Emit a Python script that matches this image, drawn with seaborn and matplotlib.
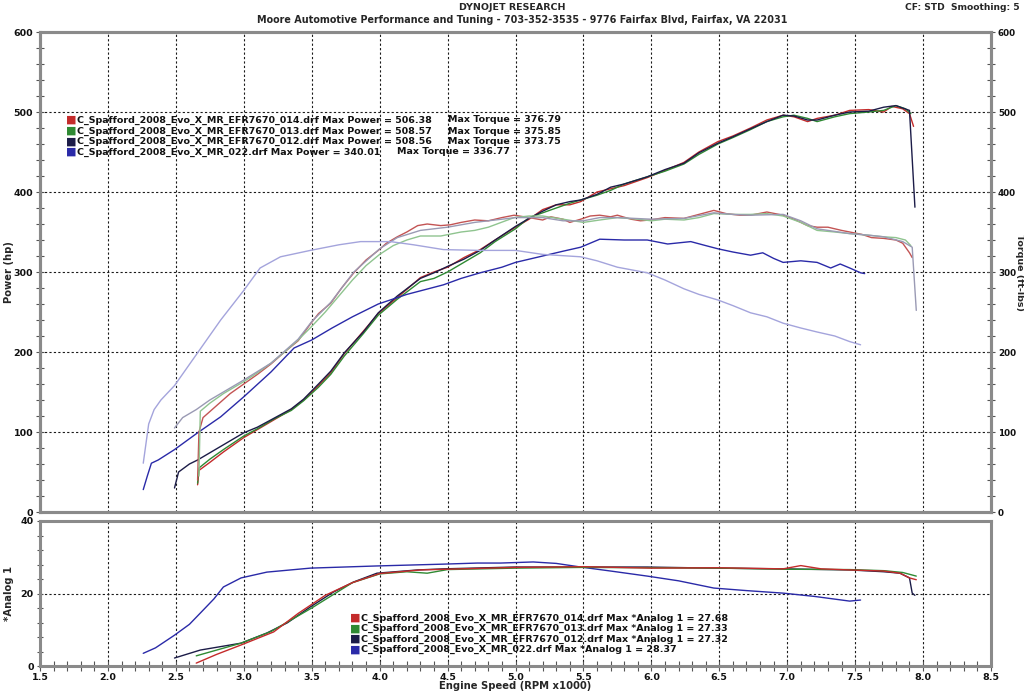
import matplotlib
matplotlib.use("Agg")
import matplotlib.pyplot as plt
import seaborn as sns
import pandas as pd
import numpy as np
from matplotlib.ticker import MultipleLocator

# ---------------- DATA ----------------
run_names = ["C_Spafford_2008_Evo_X_MR_EFR7670_014.drf",
             "C_Spafford_2008_Evo_X_MR_EFR7670_013.drf",
             "C_Spafford_2008_Evo_X_MR_EFR7670_012.drf",
             "C_Spafford_2008_Evo_X_MR_022.drf"]
max_power = [506.38, 508.57, 508.56, 340.01]
max_torque = [376.79, 375.85, 373.75, 336.77]
max_analog = [27.68, 27.33, 27.32, 28.37]

# Run 014 (red)
r014_pow_rpm = [2.66, 2.67, 2.75, 2.85, 3.0, 3.1, 3.22, 3.35, 3.44, 3.55, 3.64, 3.74, 3.88, 3.99, 4.13, 4.3, 4.4, 4.5,
                4.62, 4.74, 4.85, 5.0, 5.1, 5.2, 5.3, 5.4, 5.48, 5.6, 5.7, 5.8, 5.97, 6.1, 6.24, 6.35, 6.49, 6.6,
                6.73, 6.85, 6.97, 7.05, 7.15, 7.22, 7.35, 7.46, 7.6, 7.71, 7.77, 7.85, 7.9, 7.93]
r014_pow = [34, 52, 62, 75, 93, 103, 115, 128, 140, 158, 174, 198, 226, 248, 268, 293, 300, 306,
            318, 328, 340, 356, 366, 378, 384, 384, 388, 400, 404, 408, 418, 427, 437, 450, 463, 470,
            480, 490, 496, 494, 488, 492, 496, 502, 503, 500, 507, 504, 498, 482]
r014_trq_rpm = [2.66, 2.67, 2.7, 2.8, 2.9, 3.0, 3.1, 3.2, 3.3, 3.4, 3.49, 3.55, 3.64, 3.72, 3.81, 3.9, 3.99, 4.05,
                4.13, 4.2, 4.28, 4.35, 4.45, 4.52, 4.6, 4.7, 4.8, 4.9, 4.99, 5.1, 5.2, 5.26, 5.35, 5.4, 5.48,
                5.55, 5.62, 5.7, 5.75, 5.85, 5.92, 5.99, 6.1, 6.24, 6.35, 6.46, 6.55, 6.65, 6.73, 6.85, 6.97,
                7.05, 7.15, 7.22, 7.3, 7.4, 7.46, 7.55, 7.62, 7.71, 7.8, 7.85, 7.9, 7.92]
r014_trq = [40, 100, 118, 133, 148, 160, 172, 185, 200, 214, 235, 248, 261, 280, 299, 315, 327, 336,
            344, 350, 358, 360, 358, 359, 362, 365, 364, 368, 371, 368, 365, 369, 366, 362, 366,
            370, 371, 369, 371, 366, 364, 365, 368, 367, 372, 377, 373, 371, 371, 375, 371,
            366, 358, 356, 356, 352, 350, 347, 343, 342, 340, 336, 324, 318]

# Run 013 (green)
r013_pow_rpm = [2.66, 2.67, 2.75, 2.85, 3.0, 3.1, 3.22, 3.35, 3.44, 3.55, 3.64, 3.74, 3.88, 3.99, 4.13, 4.3, 4.4, 4.5,
                4.62, 4.74, 4.85, 5.0, 5.1, 5.2, 5.3, 5.4, 5.48, 5.6, 5.7, 5.8, 5.97, 6.1, 6.24, 6.35, 6.49, 6.6,
                6.73, 6.85, 6.97, 7.05, 7.15, 7.22, 7.35, 7.46, 7.6, 7.71, 7.8, 7.87, 7.91]
r013_pow = [36, 55, 66, 78, 95, 104, 116, 127, 139, 156, 172, 195, 223, 246, 266, 288, 292, 300,
            312, 324, 338, 354, 368, 374, 380, 386, 390, 396, 402, 410, 419, 426, 435, 447, 460, 468,
            478, 488, 494, 496, 492, 488, 494, 498, 500, 502, 508, 504, 498]
r013_trq_rpm = [2.67, 2.68, 2.75, 2.85, 3.0, 3.1, 3.2, 3.3, 3.4, 3.5, 3.6, 3.7, 3.8, 3.9, 4.0, 4.1, 4.2, 4.3,
                4.45, 4.6, 4.7, 4.8, 4.99, 5.1, 5.2, 5.35, 5.5, 5.62, 5.75, 5.9, 6.0, 6.1, 6.24, 6.35, 6.46,
                6.6, 6.73, 6.85, 6.97, 7.1, 7.22, 7.35, 7.46, 7.6, 7.71, 7.8, 7.87, 7.91]
r013_trq = [45, 126, 136, 148, 163, 174, 186, 200, 215, 232, 250, 270, 290, 308, 322, 333, 340, 345,
            345, 350, 352, 356, 368, 370, 370, 366, 362, 365, 368, 366, 364, 366, 365, 368, 373,
            372, 372, 373, 370, 362, 352, 350, 348, 346, 344, 343, 340, 333]

# Run 012 (navy)
r012_pow_rpm = [2.49, 2.52, 2.6, 2.66, 2.85, 3.0, 3.1, 3.22, 3.35, 3.44, 3.55, 3.64, 3.74, 3.88, 3.99, 4.13, 4.3,
                4.4, 4.5, 4.62, 4.74, 4.85, 5.0, 5.1, 5.2, 5.3, 5.4, 5.48, 5.6, 5.7, 5.8, 5.97, 6.1, 6.24, 6.35,
                6.49, 6.6, 6.73, 6.85, 6.97, 7.05, 7.15, 7.22, 7.35, 7.46, 7.6, 7.71, 7.8, 7.9, 7.94]
r012_pow = [30, 50, 60, 65, 84, 99, 106, 117, 129, 141, 160, 176, 199, 225, 249, 270, 292,
            299, 307, 316, 327, 340, 357, 367, 376, 384, 388, 390, 397, 406, 410, 419, 428, 436, 449,
            461, 469, 479, 488, 496, 495, 490, 490, 496, 500, 501, 506, 508, 502, 381]
r012_trq_rpm = [2.49, 2.55, 2.65, 2.75, 2.9, 3.0, 3.2, 3.4, 3.5, 3.64, 3.81, 4.0, 4.13, 4.3, 4.5, 4.7, 5.0,
                5.2, 5.35, 5.5, 5.62, 5.75, 6.0, 6.24, 6.46, 6.6, 6.73, 6.97, 7.1, 7.22, 7.46, 7.6, 7.71,
                7.85, 7.92, 7.95]
r012_trq = [105, 118, 128, 140, 155, 165, 186, 216, 238, 262, 300, 329, 343, 352, 356, 362, 368,
            368, 364, 364, 368, 368, 366, 367, 374, 372, 371, 372, 364, 354, 348, 346, 344,
            338, 331, 252]

# Run 022 (blue)
r022_pow_rpm = [2.26, 2.29, 2.32, 2.37, 2.49, 2.66, 2.83, 3.0, 3.2, 3.37, 3.5, 3.65, 3.8, 3.99, 4.2, 4.47, 4.6,
                4.74, 4.9, 5.0, 5.2, 5.35, 5.48, 5.62, 5.8, 5.97, 6.12, 6.29, 6.4, 6.49, 6.6, 6.73, 6.82,
                6.9, 6.97, 7.1, 7.22, 7.32, 7.39, 7.46, 7.54, 7.57]
r022_pow = [28, 45, 61, 65, 78, 99, 119, 144, 175, 205, 215, 230, 244, 260, 272, 284, 292,
            299, 306, 312, 320, 326, 331, 341, 340, 340, 335, 338, 333, 329, 325, 321, 324,
            317, 312, 314, 312, 305, 310, 305, 299, 298]
r022_trq_rpm = [2.26, 2.3, 2.34, 2.39, 2.49, 2.66, 2.83, 3.0, 3.12, 3.27, 3.49, 3.7, 3.86, 4.08, 4.25, 4.47,
                4.74, 5.0, 5.2, 5.48, 5.6, 5.75, 5.97, 6.1, 6.24, 6.35, 6.49, 6.6, 6.73, 6.85, 6.97, 7.1,
                7.22, 7.35, 7.46, 7.54]
r022_trq = [61, 110, 128, 140, 158, 199, 240, 277, 305, 319, 327, 334, 338, 338, 334, 328,
            327, 327, 322, 319, 314, 306, 299, 290, 279, 272, 265, 258, 249, 244, 236, 230,
            225, 220, 213, 209]

# Analog 1 (lower panel)
a022_rpm = [2.26, 2.35, 2.49, 2.6, 2.68, 2.78, 2.85, 2.98, 3.17, 3.49, 3.98, 4.47, 4.72, 4.89, 5.13, 5.3, 5.48,
            5.7, 5.97, 6.2, 6.46, 6.7, 6.97, 7.2, 7.46, 7.54]
a022 = [3.5, 5.0, 8.5, 11.5, 14.6, 18.5, 21.8, 24.3, 25.9, 27.0, 27.6, 28.1, 28.4, 28.4, 28.7, 28.3, 27.3,
        26.2, 24.8, 23.5, 21.5, 20.8, 20.1, 19.2, 17.9, 18.2]
a012_rpm = [2.49, 2.68, 2.98, 3.17, 3.32, 3.49, 3.66, 3.81, 3.98, 4.28, 4.47, 4.99, 5.48, 5.97, 6.46, 6.97,
            7.46, 7.71, 7.83, 7.9, 7.92, 7.94]
a012 = [2.2, 4.4, 6.3, 9.1, 11.9, 16.3, 20.4, 23.2, 25.6, 26.5, 26.8, 27.3, 27.3, 27.3, 27.0, 26.8,
        26.5, 26.0, 25.6, 24.3, 20.1, 19.5]
a014_rpm = [2.65, 2.8, 2.98, 3.22, 3.4, 3.6, 3.8, 4.0, 4.3, 4.6, 5.0, 5.5, 6.0, 6.5, 6.97, 7.1, 7.25, 7.46,
            7.71, 7.83, 7.9, 7.95]
a014 = [0.8, 3.2, 5.8, 9.4, 14.5, 19.5, 23.0, 25.5, 26.5, 26.8, 27.2, 27.4, 27.0, 27.1, 26.8, 27.7, 26.8,
        26.5, 26.2, 25.6, 24.3, 23.8]
a013_rpm = [2.65, 2.98, 3.2, 3.5, 3.8, 4.0, 4.2, 4.35, 4.5, 5.0, 5.5, 6.0, 6.5, 6.97, 7.46, 7.71, 7.85, 7.95]
a013 = [2.8, 6.3, 9.5, 16.0, 23.0, 25.4, 26.0, 25.6, 26.6, 27.0, 27.2, 27.1, 27.0, 26.7, 26.6, 26.3, 25.8,
        24.8]

# ---------------- STYLE ----------------
sns.set_theme(style="white")
plt.rcParams['font.family'] = ['DejaVu Sans']
plt.rcParams['font.weight'] = 'bold'

W, H = 1024, 692
fig = plt.figure(figsize=(W / 100, H / 100), dpi=100)
ax = fig.add_axes([40 / W, 1 - 512 / H, 951 / W, 480 / H])
axb = fig.add_axes([40 / W, 1 - 666 / H, 951 / W, 145 / H], sharex=ax)
ax2 = ax.twinx()

power_cols = ['#c42b2b', '#2f8a33', '#1c1c48', '#2a2aa8']
torque_cols = ['#c35454', '#8fc48f', '#9a9ab4', '#a4a4dc']


def line(axis, xs, ys, col, lw=1.0):
    df = pd.DataFrame({'rpm': xs, 'v': ys})
    sns.lineplot(data=df, x='rpm', y='v', ax=axis, color=col, lw=lw,
                 estimator=None, sort=False, legend=False)


torque_series = [(r014_trq_rpm, r014_trq), (r013_trq_rpm, r013_trq), (r012_trq_rpm, r012_trq),
                 (r022_trq_rpm, r022_trq)]
power_series = [(r014_pow_rpm, r014_pow), (r013_pow_rpm, r013_pow), (r012_pow_rpm, r012_pow),
                (r022_pow_rpm, r022_pow)]
for (xs, ys), c in zip(torque_series, torque_cols):
    line(ax2, xs, ys, c)
for (xs, ys), c in zip(power_series, power_cols):
    line(ax, xs, ys, c)

analog_series = [(a022_rpm, a022), (a012_rpm, a012), (a013_rpm, a013), (a014_rpm, a014)]
analog_cols = [power_cols[3], power_cols[2], power_cols[1], power_cols[0]]
for (xs, ys), c in zip(analog_series, analog_cols):
    line(axb, xs, ys, c)

# ---------------- AXES ----------------
grid_kw = dict(color='#1a1a1a', linestyle=(0, (2, 2)), linewidth=0.8)
spine_col = '#8a8a8a'
for a in (ax, ax2, axb):
    for s in a.spines.values():
        s.set_color(spine_col)
        s.set_linewidth(2.2)

ax.set_xlim(1.5, 8.5)
ax.set_ylim(0, 600)
ax2.set_ylim(0, 600)
axb.set_ylim(0, 40)

ax.yaxis.set_major_locator(MultipleLocator(100))
ax.yaxis.set_minor_locator(MultipleLocator(20))
ax2.yaxis.set_major_locator(MultipleLocator(100))
ax2.yaxis.set_minor_locator(MultipleLocator(20))
axb.yaxis.set_major_locator(MultipleLocator(20))
axb.yaxis.set_minor_locator(MultipleLocator(4))
axb.xaxis.set_major_locator(MultipleLocator(0.5))
axb.xaxis.set_minor_locator(MultipleLocator(0.1))

ax.grid(True, which='major', axis='both', **grid_kw)
axb.grid(True, which='major', axis='both', **grid_kw)
ax2.grid(False)

tick_font = dict(labelsize=6.8, labelcolor='#111111')
ax.tick_params(axis='x', which='both', bottom=False, labelbottom=False)
ax.tick_params(axis='y', which='both', left=True, direction='inout', color='#555555', **tick_font)
ax.tick_params(axis='y', which='major', length=6, width=0.8, pad=2)
ax.tick_params(axis='y', which='minor', length=6, width=0.8)
ax2.tick_params(axis='y', which='both', right=True, direction='inout', color='#555555',
                labelsize=6.3, labelcolor='#111111')
ax2.tick_params(axis='y', which='major', length=6, width=0.8, pad=2)
ax2.tick_params(axis='y', which='minor', length=6, width=0.8)
axb.tick_params(axis='x', which='both', bottom=True, direction='inout', color='#555555', length=7, width=0.8,
                pad=1.5, **tick_font)
axb.tick_params(axis='y', which='both', left=True, direction='inout', color='#555555', length=5, width=0.8,
                pad=2, **tick_font)
for lab in ax.get_yticklabels() + ax2.get_yticklabels() + axb.get_yticklabels() + axb.get_xticklabels():
    lab.set_fontweight('bold')

ax.set_xlabel('')
ax.set_ylabel('Power (hp)', fontsize=7.2, fontweight='bold', va='center')
ax.yaxis.set_label_coords(-31 / 951, 0.5)
ax2.set_ylabel('Torque (ft-lbs)', fontsize=6.8, fontweight='bold', rotation=-90, va='center')
ax2.yaxis.set_label_coords(1 + 28.5 / 951, 0.5)
axb.set_ylabel('*Analog 1', fontsize=7.2, fontweight='bold', va='center')
axb.yaxis.set_label_coords(-31 / 951, 0.5)
axb.set_xlabel('Engine Speed (RPM x1000)', fontsize=7.2, fontweight='bold', va='center')
axb.xaxis.set_label_coords(0.5, -20 / 145)
axb.xaxis.set_major_formatter(matplotlib.ticker.FormatStrFormatter('%.1f'))

# ---------------- TEXT ----------------
fig.text(512 / W, 1 - 8 / H, 'DYNOJET RESEARCH', ha='center', va='center', fontsize=6.8, fontweight='bold')
fig.text(522 / W, 1 - 20 / H,
         'Moore Automotive Performance and Tuning - 703-352-3535 - 9776 Fairfax Blvd, Fairfax, VA 22031',
         ha='center', va='center', fontsize=6.9, fontweight='bold')
fig.text(1020 / W, 1 - 8 / H, 'CF: STD  Smoothing: 5', ha='right', va='center', fontsize=6.6,
         fontweight='bold')

legend_font = 6.8
rows_top = [120, 131, 141.5, 152]
torque_x = [448, 448, 448, 397]
for i in range(4):
    y = 1 - rows_top[i] / H
    fig.text(71 / W, y, '■', color=power_cols[i], ha='center', va='center', fontsize=8)
    fig.text(77 / W, y, f'{run_names[i]} Max Power = {max_power[i]:.2f}', ha='left', va='center',
             fontsize=legend_font, fontweight='bold', color='#111111')
    fig.text(torque_x[i] / W, y, f'Max Torque = {max_torque[i]:.2f}', ha='left', va='center',
             fontsize=legend_font, fontweight='bold', color='#111111')

rows_bot = [618, 628.5, 639, 649.5]
for i in range(4):
    y = 1 - rows_bot[i] / H
    fig.text(355 / W, y, '■', color=power_cols[i], ha='center', va='center', fontsize=8)
    fig.text(361 / W, y, f'{run_names[i]} Max *Analog 1 = {max_analog[i]:.2f}', ha='left', va='center',
             fontsize=legend_font, fontweight='bold', color='#111111')

fig.savefig('out.png', dpi=100, facecolor='white')
